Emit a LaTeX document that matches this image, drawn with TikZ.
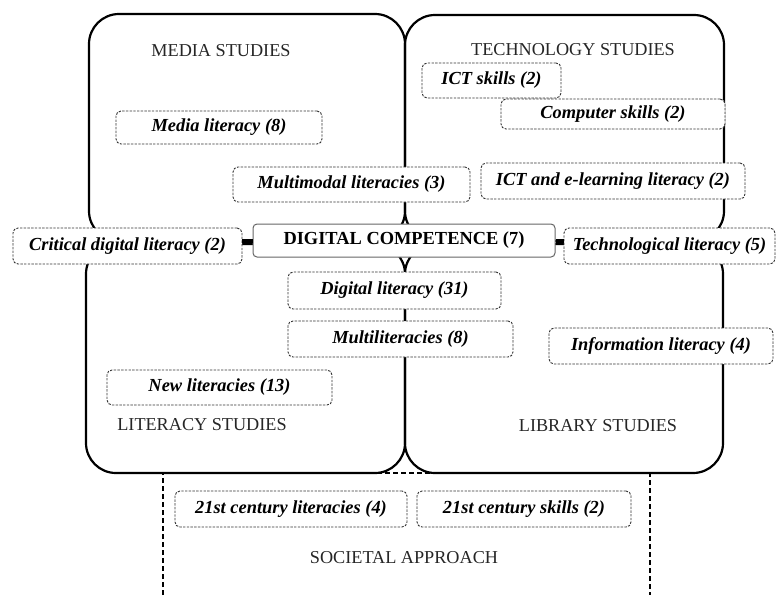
\documentclass[tikz,border=0pt]{standalone}
\usepackage{fontspec}
\setmainfont{Liberation Serif}
\begin{document}
\begin{tikzpicture}[x=1pt,y=-1pt,
  field/.style={draw=black, line width=2.2pt, rounded corners=30pt, inner sep=0pt, anchor=center},
  fieldname/.style={text=black!85, font=\fontsize{18.2}{21}\selectfont, inner sep=0pt},
  term/.style={draw=black!80, line width=0.9pt, dash pattern=on 2.4pt off 1.3pt,
    rounded corners=5pt, fill=white, inner sep=0pt, align=center,
    font=\bfseries\itshape\fontsize{18.4}{21}\selectfont},
  core/.style={draw=black!60, line width=1pt, rounded corners=4pt, fill=white, inner sep=0pt,
    font=\bfseries\fontsize{18.4}{21}\selectfont},
  link/.style={line width=4pt, black}]
\useasboundingbox (0,0) rectangle (776,595);

% societal approach frame (open at the bottom)
\coordinate (socTL) at (163,473);
\coordinate (socTR) at (650,473);
\coordinate (socBL) at (163,595);
\coordinate (socBR) at (650,595);
\draw[line width=1.5pt, dash pattern=on 5pt off 3pt] (socBL) -- (socTL) -- (socTR) -- (socBR);

% four disciplinary fields
\node[field, minimum width=316pt, minimum height=227pt] (media) at (247,127.5) {};
\node[field, minimum width=319pt, minimum height=226pt] (tech) at (564.5,128) {};
\node[field, minimum width=319pt, minimum height=229pt] (lit) at (245.5,358.5) {};
\node[field, minimum width=318pt, minimum height=229pt] (lib) at (564,358.5) {};

% field names
\node[fieldname] (mediaT) at (221,51) {MEDIA STUDIES};
\node[fieldname] (techT) at (573,50) {TECHNOLOGY STUDIES};
\node[fieldname] (litT) at (202,425) {LITERACY STUDIES};
\node[fieldname] (libT) at (598,426) {LIBRARY STUDIES};
\node[fieldname] (socT) at (404,558) {SOCIETAL APPROACH};

% terms
\node[term, minimum width=206pt, minimum height=33pt] (medialit) at (219,127.5) {Media literacy (8)};
\node[term, minimum width=237pt, minimum height=35pt] (multimodal) at (351.5,184.5) {Multimodal literacies (3)};
\node[term, minimum width=139pt, minimum height=35pt] (ictskills) at (491.5,80.5) {ICT skills (2)};
\node[term, minimum width=224pt, minimum height=30pt] (compskills) at (613,114) {Computer skills (2)};
\node[term, minimum width=264pt, minimum height=36pt] (ictel) at (613,181) {ICT and e-learning literacy (2)};
\node[term, minimum width=229pt, minimum height=36pt] (crit) at (127.5,246) {Critical digital literacy (2)};
\node[core, minimum width=302pt, minimum height=33pt] (dc) at (404,240.5) {DIGITAL COMPETENCE (7)};
\node[term, minimum width=211pt, minimum height=36pt] (techlit) at (669.5,246) {Technological literacy (5)};
\node[term, minimum width=213pt, minimum height=37pt] (diglit) at (394.5,290.5) {Digital literacy (31)};
\node[term, minimum width=225pt, minimum height=36pt] (multi) at (400.5,339) {Multiliteracies (8)};
\node[term, minimum width=225pt, minimum height=35pt] (newlit) at (219.5,387.5) {New literacies (13)};
\node[term, minimum width=224pt, minimum height=36pt] (infolit) at (661,346) {Information literacy (4)};
\node[term, minimum width=232pt, minimum height=36pt] (c21lit) at (291,509) {21st century literacies (4)};
\node[term, minimum width=214pt, minimum height=36pt] (c21skills) at (524,509) {21st century skills (2)};

% links to the central concept
\draw[link] (dc.west) -- (dc.west -| crit.east);
\draw[link] (dc.east) -- (dc.east -| techlit.west);
\end{tikzpicture}
\end{document}
